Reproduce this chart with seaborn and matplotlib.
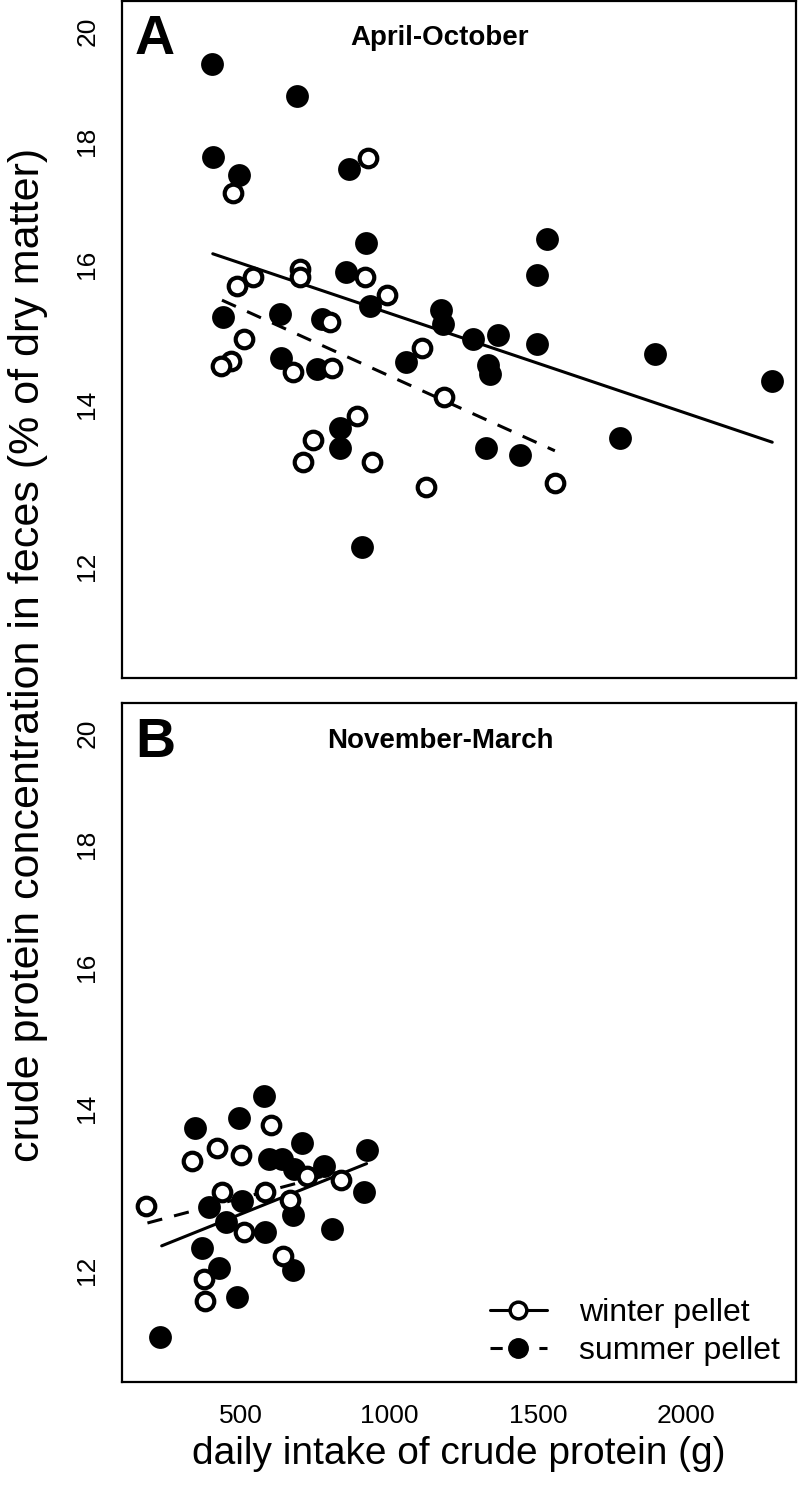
"""Crude protein in feces vs daily crude protein intake, two seasons (log y)."""

import numpy as np
import pandas as pd
import matplotlib
matplotlib.use("Agg")
import matplotlib.pyplot as plt
from matplotlib.ticker import FixedLocator, FixedFormatter, NullFormatter
from matplotlib.lines import Line2D
import seaborn as sns

# ---- panel A: April-October ----
a_summer_x = [403, 690, 405, 494, 863, 920, 855, 934, 1173, 1179, 438, 631, 772,
              1531, 1498, 1280, 1364, 1498, 1333, 1338, 1894, 2289, 635, 755,
              1055, 833, 833, 1324, 1439, 906, 1776]
a_summer_y = [19.38, 18.80, 17.74, 17.43, 17.53, 16.34, 15.89, 15.38, 15.32, 15.12,
              15.22, 15.27, 15.19, 16.40, 15.85, 14.91, 14.96, 14.84, 14.54, 14.42,
              14.70, 14.32, 14.64, 14.49, 14.58, 13.69, 13.44, 13.43, 13.35, 12.23,
              13.57]
a_winter_x = [929, 474, 541, 486, 699, 699, 918, 992, 800, 1108, 1184, 892, 510,
              465, 433, 676, 805, 743, 708, 942, 1123, 1557]
a_winter_y = [17.72, 17.13, 15.81, 15.68, 15.94, 15.82, 15.82, 15.55, 15.15, 14.78,
              14.10, 13.85, 14.91, 14.60, 14.53, 14.44, 14.50, 13.54, 13.26, 13.26,
              12.94, 13.00]

# ---- panel B: November-March ----
b_summer_x = [577, 493, 345, 704, 923, 594, 639, 679, 780, 915, 393, 504, 675,
              450, 581, 805, 369, 427, 675, 486, 227]
b_summer_y = [14.16, 13.87, 13.74, 13.54, 13.45, 13.34, 13.34, 13.21, 13.25, 12.93,
              12.74, 12.82, 12.65, 12.56, 12.44, 12.48, 12.25, 12.02, 12.00, 11.70,
              11.26]
b_winter_x = [601, 418, 499, 334, 721, 836, 435, 581, 665, 179, 510, 642, 376, 379]
b_winter_y = [13.78, 13.48, 13.39, 13.31, 13.12, 13.08, 12.92, 12.92, 12.83, 12.76,
              12.44, 12.16, 11.90, 11.65]

# fitted lines, end points
a_solid_x, a_solid_y = [405, 2289], [16.17, 13.51]
a_dash_x, a_dash_y = [436, 1557], [15.47, 13.40]
b_solid_x, b_solid_y = [233, 923], [12.28, 13.28]
b_dash_x, b_dash_y = [185, 836], [12.55, 13.18]

y_major = [12, 14, 16, 18, 20]
y_minor = [11, 13, 15, 17, 19]
x_ticks = [500, 1000, 1500, 2000]

sns.set_style("white")
plt.rcParams['font.family'] = ['Liberation Sans', 'DejaVu Sans']
plt.rcParams['text.color'] = 'black'
plt.rcParams['axes.labelcolor'] = 'black'
plt.rcParams['xtick.color'] = 'black'
plt.rcParams['ytick.color'] = 'black'

fig = plt.figure(figsize=(8, 14.88), dpi=100)
axA = fig.add_axes([0.152, 0.5444, 0.843, 0.455])
axB = fig.add_axes([0.152, 0.0714, 0.843, 0.4559])

panels = [
    (axA, a_summer_x, a_summer_y, a_winter_x, a_winter_y,
     a_solid_x, a_solid_y, a_dash_x, a_dash_y, 'A', 'April-October'),
    (axB, b_summer_x, b_summer_y, b_winter_x, b_winter_y,
     b_solid_x, b_solid_y, b_dash_x, b_dash_y, 'B', 'November-March'),
]

for (ax, sx, sy, wx, wy, lsx, lsy, ldx, ldy, letter, title) in panels:
    summer = pd.DataFrame({'intake': sx, 'cp': sy})
    winter = pd.DataFrame({'intake': wx, 'cp': wy})

    sns.lineplot(x=lsx, y=lsy, ax=ax, color='black', linewidth=2.2)
    sns.lineplot(x=ldx, y=ldy, ax=ax, color='black', linewidth=2.2,
                 linestyle=(0, (5, 4)))
    sns.scatterplot(data=summer, x='intake', y='cp', ax=ax, s=270,
                    color='black', edgecolor='black', linewidth=0, zorder=3)
    sns.scatterplot(data=winter, x='intake', y='cp', ax=ax, s=160,
                    facecolor='white', edgecolor='black', linewidth=3, zorder=4)

    ax.set_yscale('log')
    ax.set_ylim(10.79, 20.58)
    ax.set_xlim(98, 2369)
    ax.yaxis.set_major_locator(FixedLocator(y_major))
    ax.yaxis.set_major_formatter(FixedFormatter([str(v) for v in y_major]))
    ax.yaxis.set_minor_locator(FixedLocator(y_minor))
    ax.yaxis.set_minor_formatter(NullFormatter())
    ax.set_xticks(x_ticks)
    ax.set_xlabel('')
    ax.set_ylabel('')

    ax.tick_params(axis='both', which='major', direction='out', length=8,
                   width=1.5, labelsize=19, color='black', pad=8)
    ax.tick_params(axis='y', which='minor', direction='out', length=5,
                   width=1.5, color='black')
    ax.tick_params(axis='y', labelrotation=90)
    for lab in ax.get_yticklabels():
        lab.set_va('center')

    for sp in ax.spines.values():
        sp.set_visible(True)
        sp.set_color('black')
        sp.set_linewidth(1.6)

    ax.text(0.02, 0.98, letter, transform=ax.transAxes, fontsize=40,
            fontweight='bold', va='top', ha='left')
    ax.text(0.472, 0.945, title, transform=ax.transAxes, fontsize=20,
            fontweight='bold', va='center', ha='center')

axA.tick_params(axis='x', labelbottom=False)
axB.set_xlabel('daily intake of crude protein (g)', fontsize=28, labelpad=6)

fig.text(0.035, 1 - 655 / 1488, 'crude protein concentration in feces (% of dry matter)',
         rotation=90, fontsize=31, ha='center', va='center')

handles = [
    Line2D([0], [0], color='black', linewidth=2.2, marker='o', markersize=12,
           markerfacecolor='white', markeredgewidth=2.5, markeredgecolor='black'),
    Line2D([0], [0], color='black', linewidth=2.2, linestyle=(0, (4, 4)),
           marker='o', markersize=14, markerfacecolor='black', markeredgecolor='black'),
]
axB.legend(handles, ['winter pellet', 'summer pellet'], loc='lower right',
           frameon=False, fontsize=23, handlelength=1.8, handletextpad=1.0,
           labelspacing=0.25, borderaxespad=0.1)

fig.savefig('out.png', dpi=100)
